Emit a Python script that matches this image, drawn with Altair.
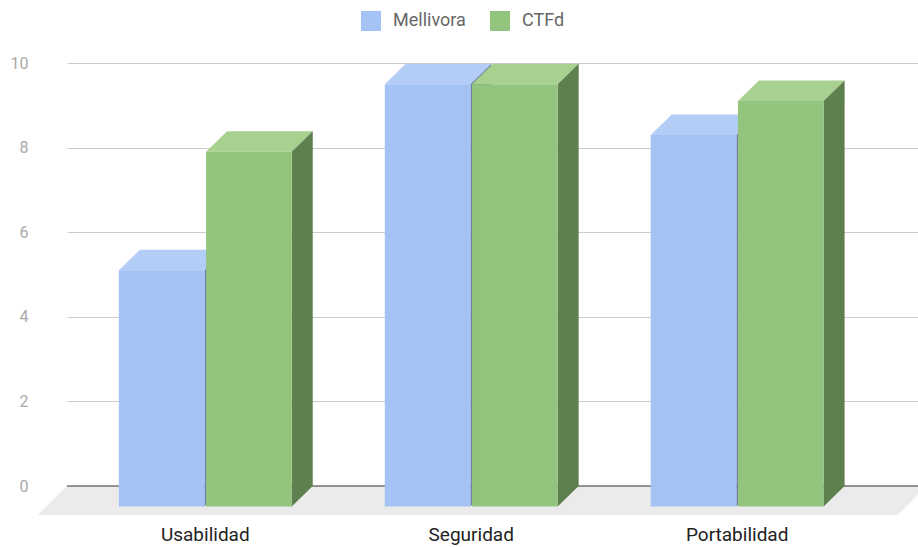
import altair as alt
import pandas as pd

# ---- data ----
categories = ["Usabilidad", "Seguridad", "Portabilidad"]
series = ["Mellivora", "CTFd"]
mellivora = [5.1, 9.5, 8.3]
ctfd = [7.9, 9.5, 9.1]
y_ticks = [0, 2, 4, 6, 8, 10]

# ---- styling ----
FRONT = {"Mellivora": "#a4c2f4", "CTFd": "#93c47d"}
TOP = {"Mellivora": "#b4cdf6", "CTFd": "#a8d08f"}
SIDE = {"Mellivora": "#6f82a6", "CTFd": "#5e7f4e"}
FLOOR = "#ebebeb"

BW = 0.322      # bar width in category units
GAP = 0.003     # half gap between the pair
DX = 0.079      # 3-D depth, x (category units)
DY = 0.485      # 3-D depth, y (value units)
FDX = 0.109     # floor depth x
FDY = 0.686     # floor depth y

xs = alt.Scale(domain=[-0.52, 2.68], nice=False, zero=False)
ys = alt.Scale(domain=[0, 10], nice=False, zero=False)
yaxis = alt.Axis(values=y_ticks, grid=True, gridColor="#cccccc", gridWidth=1,
                 ticks=False, tickSize=0, domain=False, labelPadding=39,
                 labelFont="Roboto", labelFontSize=16, labelColor="#aaaaaa",
                 title=None)

values = {"Mellivora": mellivora, "CTFd": ctfd}

front_rows, top_rows, side_rows = [], [], []
for i, cat in enumerate(categories):
    for s in series:
        v = values[s][i]
        x0 = i - GAP - BW if s == "Mellivora" else i + GAP
        x1 = x0 + BW
        front_rows.append(dict(category=cat, series=s, x=x0, x2=x1, y=-DY, y2=v))
        top_rows += [
            dict(category=cat, series=s, x=x0, y=v, y2=v),
            dict(category=cat, series=s, x=x0 + DX, y=v + DY, y2=v),
            dict(category=cat, series=s, x=x1, y=v + DY, y2=v),
            dict(category=cat, series=s, x=x1 + DX, y=v + DY, y2=v + DY),
        ]
        side_rows += [
            dict(category=cat, series=s, x=x1, y=v, y2=-DY),
            dict(category=cat, series=s, x=x1 + DX, y=v + DY, y2=0),
        ]

front_df = pd.DataFrame(front_rows)
top_df = pd.DataFrame(top_rows)
side_df = pd.DataFrame(side_rows)

xl, xr = -0.63, 2.604
floor_df = pd.DataFrame([
    dict(x=xl, y=-FDY, y2=-FDY),
    dict(x=xl + FDX, y=0, y2=-FDY),
    dict(x=xr, y=0, y2=-FDY),
    dict(x=xr + FDX, y=0, y2=0),
])
base_df = pd.DataFrame([dict(x=-0.52, x2=2.68, y=0)])
label_df = pd.DataFrame({"category": categories, "pos": list(range(len(categories)))})

floor = alt.Chart(floor_df).mark_area(color=FLOOR, opacity=1, orient="vertical").encode(
    x=alt.X("x:Q", scale=xs, axis=None),
    y=alt.Y("y:Q", scale=ys, axis=yaxis),
    y2="y2:Q",
)
baseline = alt.Chart(base_df).mark_rule(color="#333333", strokeWidth=1.2).encode(
    x=alt.X("x:Q", scale=xs, axis=None),
    x2="x2:Q",
    y=alt.Y("y:Q", scale=ys, axis=yaxis),
)

legend = alt.Legend(orient="none", legendX=294, legendY=-52, direction="horizontal",
                    title=None, symbolType="square", symbolSize=400, symbolStrokeWidth=0,
                    symbolOpacity=1, labelFont="Roboto", labelFontSize=18,
                    labelColor="#666666", labelOffset=12, columnPadding=24, padding=0)
color = alt.Color("series:N", scale=alt.Scale(domain=series, range=[FRONT[s] for s in series]),
                  legend=legend)

layers = [floor, baseline]
for s in series:
    top = alt.Chart(top_df[top_df.series == s]).mark_area(
        color=TOP[s], opacity=1, orient="vertical").encode(
        x=alt.X("x:Q", scale=xs, axis=None),
        y=alt.Y("y:Q", scale=ys, axis=yaxis),
        y2="y2:Q",
        detail="category:N",
    )
    side = alt.Chart(side_df[side_df.series == s]).mark_area(
        color=SIDE[s], opacity=1, orient="vertical").encode(
        x=alt.X("x:Q", scale=xs, axis=None),
        y=alt.Y("y:Q", scale=ys, axis=yaxis),
        y2="y2:Q",
        detail="category:N",
    )
    front = alt.Chart(front_df[front_df.series == s]).mark_bar(opacity=1, strokeWidth=0).encode(
        x=alt.X("x:Q", scale=xs, axis=None),
        x2="x2:Q",
        y=alt.Y("y:Q", scale=ys, axis=yaxis),
        y2="y2:Q",
        color=color,
    )
    layers += [top, side, front]

labels = alt.Chart(label_df).mark_text(font="Roboto", fontSize=19, color="#222222",
                                       align="center", baseline="alphabetic").encode(
    x=alt.X("pos:Q", scale=xs, axis=None),
    y=alt.value(478),
    text="category:N",
)
layers.append(labels)

chart = alt.layer(*layers).properties(
    width=851, height=423, autosize="none",
    padding={"left": 67, "top": 63, "right": 0, "bottom": 61},
).configure_view(stroke=None)

chart.save("out.html", embed_options={"renderer": "svg", "actions": False})
